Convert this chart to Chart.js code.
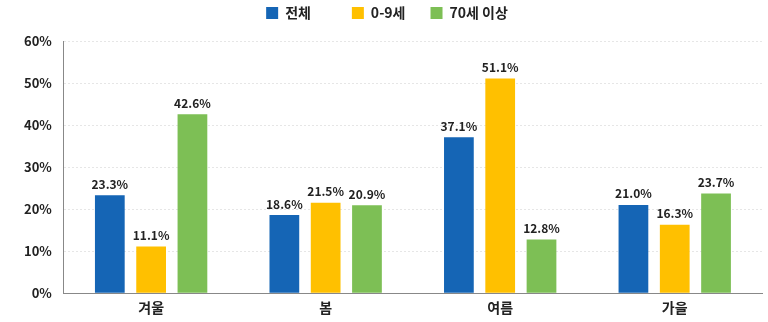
<!DOCTYPE html>
<html>
<head>
<meta charset="utf-8">
<script src="https://cdn.jsdelivr.net/npm/chart.js@4/dist/chart.umd.min.js"></script>
<style>
html,body{margin:0;padding:0;background:#fff;}
#wrap{width:768px;height:322px;position:relative;}
</style>
</head>
<body>
<div id="wrap"><canvas id="c"></canvas></div>
<script>
const categories = ['겨울', '봄', '여름', '가을'];
const seriesNames = ['전체', '0-9세', '70세 이상'];
const total = [23.3, 18.6, 37.1, 21.0];
const age0to9 = [11.1, 21.5, 51.1, 16.3];
const age70plus = [42.6, 20.9, 12.8, 23.7];
const yTicks = [0, 10, 20, 30, 40, 50, 60];

const colors = ['#1565B5', '#FFC000', '#7DBF55'];
const legendGaps = [11, 6, 0];
const FONT = '"Noto Sans CJK KR", "Noto Sans", sans-serif';

const valueLabels = {
  id: 'valueLabels',
  afterDatasetsDraw(chart) {
    const ctx = chart.ctx;
    ctx.save();
    ctx.font = '600 12px ' + FONT;
    ctx.fillStyle = '#222';
    ctx.textAlign = 'center';
    ctx.textBaseline = 'bottom';
    chart.data.datasets.forEach((ds, i) => {
      const meta = chart.getDatasetMeta(i);
      meta.data.forEach((bar, j) => {
        ctx.fillText(ds.data[j].toFixed(1) + '%', bar.x, bar.y - 5);
      });
    });
    ctx.restore();
  }
};

new Chart(document.getElementById('c'), {
  type: 'bar',
  data: {
    labels: categories,
    datasets: [
      { label: seriesNames[0], data: total, backgroundColor: colors[0] },
      { label: seriesNames[1], data: age0to9, backgroundColor: colors[1] },
      { label: seriesNames[2], data: age70plus, backgroundColor: colors[2] }
    ]
  },
  options: {
    responsive: true,
    maintainAspectRatio: false,
    animation: false,
    layout: { padding: { left: 12, right: 6, top: 0, bottom: 0 } },
    datasets: { bar: { categoryPercentage: 0.71, barPercentage: 0.72 } },
    plugins: {
      legend: {
        position: 'top',
        labels: {
          font: { family: FONT, size: 14, weight: '600' },
          color: '#222',
          boxWidth: 12,
          boxHeight: 12,
          padding: 6,
          generateLabels(chart) {
            const items = Chart.defaults.plugins.legend.labels.generateLabels(chart);
            items.forEach((it, i) => { it.text = it.text + ' '.repeat(legendGaps[i]); });
            return items;
          }
        }
      },
      subtitle: {
        display: true,
        text: '',
        position: 'top',
        weight: 500,
        padding: 0,
        font: { size: 11, lineHeight: 1 }
      },
      tooltip: { enabled: false }
    },
    scales: {
      x: {
        grid: { display: false, drawTicks: false },
        border: { display: true, color: '#888', width: 1 },
        ticks: { font: { family: FONT, size: 14, weight: '600' }, color: '#222', padding: 6 }
      },
      y: {
        min: 0,
        max: 60,
        afterBuildTicks(axis) { axis.ticks = yTicks.map(v => ({ value: v })); },
        grid: { color: '#e6e6e6', drawTicks: false },
        border: { display: true, color: '#888', width: 1, dash: [2, 2] },
        ticks: {
          font: { family: FONT, size: 13, weight: '600' },
          color: '#222',
          padding: 12,
          callback: v => v + '%'
        }
      }
    }
  },
  plugins: [valueLabels]
});
</script>
</body>
</html>
